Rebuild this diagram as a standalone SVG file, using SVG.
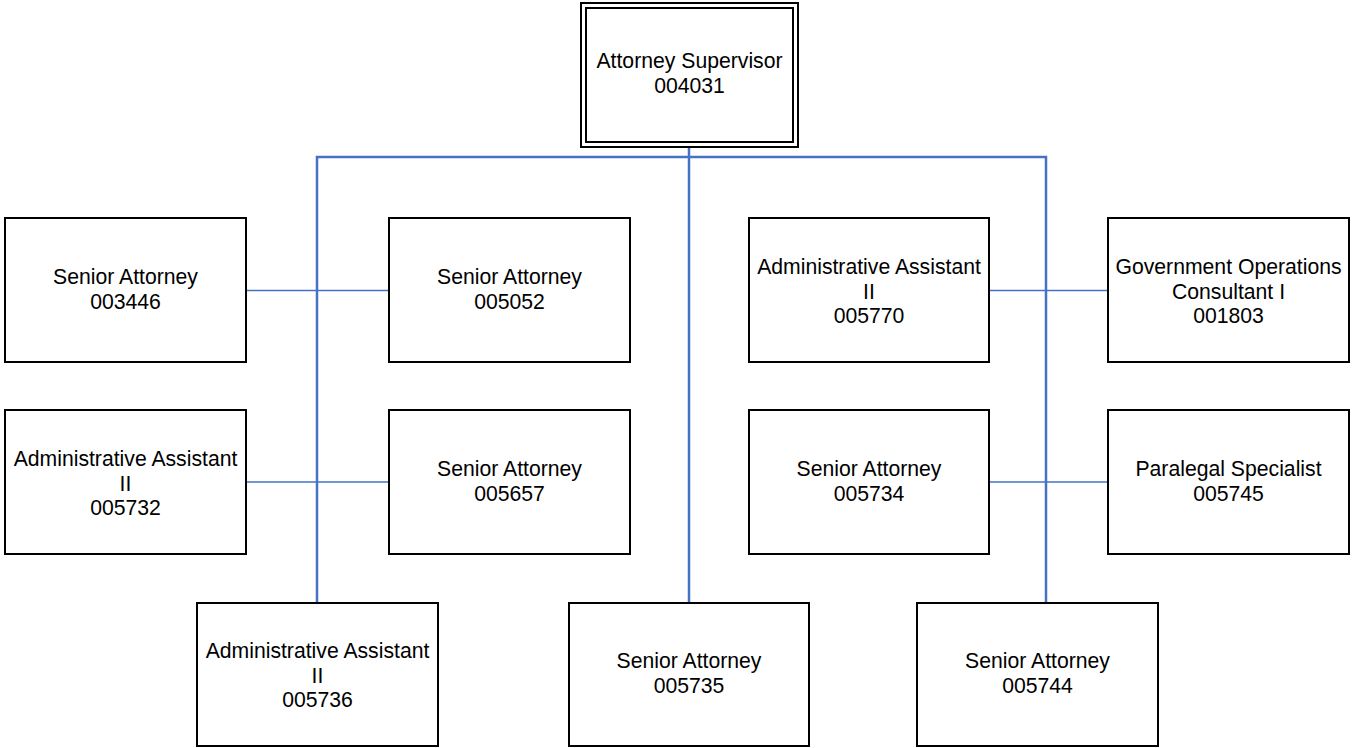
<svg xmlns="http://www.w3.org/2000/svg" width="1352" height="748" viewBox="0 0 1352 748">
  <style>
    .box { fill: #ffffff; stroke: #000000; stroke-width: 2; }
    .lbl { font-family: "Liberation Sans", Arial, sans-serif; font-size: 21.2px; fill: #000000; text-anchor: middle; }
    .trunk { fill: none; stroke: #4472C4; stroke-width: 2.5; }
    .link { fill: none; stroke: #4472C4; stroke-width: 1.5; }
  </style>
  <rect width="1352" height="748" fill="#ffffff"/>

  <!-- connectors -->
  <g id="connectors">
    <path class="trunk" d="M689 147 V603"/>
    <path class="trunk" d="M317 603 V157 H1046 V603"/>
    <path class="link" d="M246 290.5 H389"/>
    <path class="link" d="M246 482 H389"/>
    <path class="link" d="M989 290.5 H1108"/>
    <path class="link" d="M989 482 H1108"/>
  </g>

  <!-- root position -->
  <g id="n004031">
    <rect class="box" x="581" y="3" width="217" height="144"/>
    <rect class="box" x="586" y="8" width="207" height="134"/>
    <text class="lbl" x="689.5" y="68">Attorney Supervisor</text>
    <text class="lbl" x="689.5" y="93">004031</text>
  </g>

  <g id="n003446">
    <rect class="box" x="5" y="218" width="241" height="144"/>
    <text class="lbl" x="125.5" y="284">Senior Attorney</text>
    <text class="lbl" x="125.5" y="309">003446</text>
  </g>

  <g id="n005052">
    <rect class="box" x="389" y="218" width="241" height="144"/>
    <text class="lbl" x="509.5" y="284">Senior Attorney</text>
    <text class="lbl" x="509.5" y="309">005052</text>
  </g>

  <g id="n005770">
    <rect class="box" x="749" y="218" width="240" height="144"/>
    <text class="lbl" x="869" y="274">Administrative Assistant</text>
    <text class="lbl" x="869" y="298.5">II</text>
    <text class="lbl" x="869" y="323">005770</text>
  </g>

  <g id="n001803">
    <rect class="box" x="1108" y="218" width="241" height="144"/>
    <text class="lbl" x="1228.5" y="274">Government Operations</text>
    <text class="lbl" x="1228.5" y="298.5">Consultant I</text>
    <text class="lbl" x="1228.5" y="323">001803</text>
  </g>

  <g id="n005732">
    <rect class="box" x="5" y="410" width="241" height="144"/>
    <text class="lbl" x="125.5" y="466">Administrative Assistant</text>
    <text class="lbl" x="125.5" y="490.5">II</text>
    <text class="lbl" x="125.5" y="515">005732</text>
  </g>

  <g id="n005657">
    <rect class="box" x="389" y="410" width="241" height="144"/>
    <text class="lbl" x="509.5" y="476">Senior Attorney</text>
    <text class="lbl" x="509.5" y="501">005657</text>
  </g>

  <g id="n005734">
    <rect class="box" x="749" y="410" width="240" height="144"/>
    <text class="lbl" x="869" y="476">Senior Attorney</text>
    <text class="lbl" x="869" y="501">005734</text>
  </g>

  <g id="n005745">
    <rect class="box" x="1108" y="410" width="241" height="144"/>
    <text class="lbl" x="1228.5" y="476">Paralegal Specialist</text>
    <text class="lbl" x="1228.5" y="501">005745</text>
  </g>

  <g id="n005736">
    <rect class="box" x="197" y="603" width="241" height="143"/>
    <text class="lbl" x="317.5" y="658">Administrative Assistant</text>
    <text class="lbl" x="317.5" y="682.5">II</text>
    <text class="lbl" x="317.5" y="707">005736</text>
  </g>

  <g id="n005735">
    <rect class="box" x="569" y="603" width="240" height="143"/>
    <text class="lbl" x="689" y="668">Senior Attorney</text>
    <text class="lbl" x="689" y="693">005735</text>
  </g>

  <g id="n005744">
    <rect class="box" x="917" y="603" width="241" height="143"/>
    <text class="lbl" x="1037.5" y="668">Senior Attorney</text>
    <text class="lbl" x="1037.5" y="693">005744</text>
  </g>
</svg>
